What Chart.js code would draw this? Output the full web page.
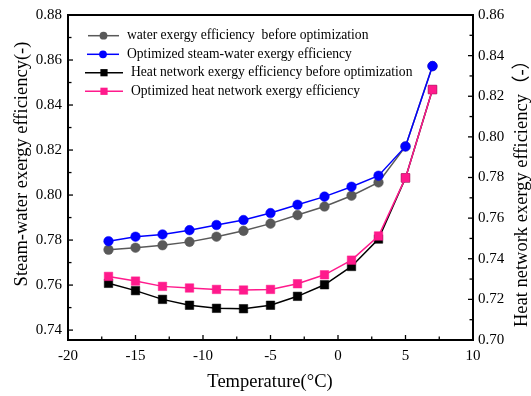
<!DOCTYPE html>
<html>
<head>
<meta charset="utf-8">
<script src="https://cdn.jsdelivr.net/npm/chart.js@4/dist/chart.umd.min.js"></script>
<style>
  html, body { margin: 0; padding: 0; background: #fff; }
  #wrap { width: 531px; height: 396px; position: relative; }
</style>
</head>
<body>
<div id="wrap"><canvas id="c" width="531" height="396"></canvas></div>
<script>
// Outdoor temperature (°C)
const temperatures = [-17, -15, -13, -11, -9, -7, -5, -3, -1, 1, 3, 5, 7];

// Steam-water exergy efficiency (left axis)
const steamWaterBefore = [0.7757, 0.7766, 0.7777, 0.7792, 0.7815, 0.7841, 0.7873, 0.7911, 0.7949, 0.7997, 0.8056, 0.8216, 0.8573];
const steamWaterOptimized = [0.7795, 0.7815, 0.7825, 0.7844, 0.7867, 0.7889, 0.7920, 0.7957, 0.7993, 0.8037, 0.8086, 0.8216, 0.8573];

// Heat network exergy efficiency (right axis)
const heatNetBefore = [0.7279, 0.7243, 0.7200, 0.7171, 0.7156, 0.7154, 0.7171, 0.7215, 0.7272, 0.7362, 0.7497, 0.7798, 0.8233];
const heatNetOptimized = [0.7313, 0.7290, 0.7264, 0.7256, 0.7249, 0.7246, 0.7249, 0.7277, 0.7321, 0.7393, 0.7512, 0.7798, 0.8233];

// Tick labels
const xTicks = [-20, -15, -10, -5, 0, 5, 10];
const leftTicks = [0.74, 0.76, 0.78, 0.80, 0.82, 0.84, 0.86, 0.88];
const rightTicks = [0.70, 0.72, 0.74, 0.76, 0.78, 0.80, 0.82, 0.84, 0.86];

const serif = "'Liberation Serif', 'Times New Roman', serif";

function pts(ys) { return temperatures.map((t, i) => ({ x: t, y: ys[i] })); }

const datasets = [
  { label: 'water exergy efficiency  before optimization', data: pts(steamWaterBefore), yAxisID: 'yL',
    borderColor: '#595959', backgroundColor: '#595959', pointStyle: 'circle', pointRadius: 4.8, order: 2 },
  { label: 'Optimized steam-water exergy efficiency', data: pts(steamWaterOptimized), yAxisID: 'yL',
    borderColor: '#0000ff', backgroundColor: '#0000ff', pointStyle: 'circle', pointRadius: 4.8, order: 0 },
  { label: 'Heat network exergy efficiency before optimization', data: pts(heatNetBefore), yAxisID: 'yR',
    borderColor: '#000000', backgroundColor: '#000000', pointStyle: 'rect', pointRadius: 6, order: 3 },
  { label: 'Optimized heat network exergy efficiency', data: pts(heatNetOptimized), yAxisID: 'yR',
    borderColor: '#ff1a8c', backgroundColor: '#ff1a8c', pointStyle: 'rect', pointRadius: 6, order: 1 }
];
datasets.forEach(d => { d.borderWidth = 1.5; d.pointBorderWidth = 0.5; d.tension = 0; d.fill = false; });

function fixedTicks(list) {
  return function (scale) { scale.ticks = list.map(v => ({ value: v })); };
}

// Frame, inward tick marks, legend and axis titles
const decor = {
  id: 'decor',
  afterDraw(chart) {
    const ctx = chart.ctx;
    const a = chart.chartArea;
    const sx = chart.scales.x, sl = chart.scales.yL, sr = chart.scales.yR;
    ctx.save();
    ctx.strokeStyle = '#000';
    ctx.lineWidth = 1.3;
    // bottom ticks: major every 5, minor every 2.5
    for (let v = -20; v <= 10; v += 2.5) {
      const px = sx.getPixelForValue(v);
      const len = (v % 5 === 0) ? 5 : 3.5;
      ctx.beginPath(); ctx.moveTo(px, a.bottom); ctx.lineTo(px, a.bottom - len); ctx.stroke();
    }
    // left ticks
    for (let k = 74; k <= 88; k++) {
      const v = k / 100;
      const py = sl.getPixelForValue(v);
      const len = (k % 2 === 0) ? 5 : 3.5;
      ctx.beginPath(); ctx.moveTo(a.left, py); ctx.lineTo(a.left + len, py); ctx.stroke();
    }
    // right ticks
    for (let k = 70; k <= 86; k++) {
      const v = k / 100;
      const py = sr.getPixelForValue(v);
      const len = (k % 2 === 0) ? 5 : 3.5;
      ctx.beginPath(); ctx.moveTo(a.right, py); ctx.lineTo(a.right - len, py); ctx.stroke();
    }
    // frame
    ctx.lineWidth = 2;
    ctx.strokeRect(a.left, a.top, a.right - a.left, a.bottom - a.top);

    // legend
    const items = [
      { x0: 88, x1: 119, tx: 127, y: 35.7 },
      { x0: 87, x1: 119, tx: 127, y: 54.3 },
      { x0: 85, x1: 123, tx: 131, y: 72.7 },
      { x0: 85, x1: 123, tx: 131, y: 91.3 }
    ];
    ctx.font = '13.6px ' + serif;
    ctx.textBaseline = 'middle';
    ctx.textAlign = 'left';
    items.forEach((it, i) => {
      const ds = chart.data.datasets[i];
      ctx.strokeStyle = ds.borderColor;
      ctx.fillStyle = ds.backgroundColor;
      ctx.lineWidth = 1.5;
      ctx.beginPath(); ctx.moveTo(it.x0, it.y); ctx.lineTo(it.x1, it.y); ctx.stroke();
      const cx = (it.x0 + it.x1) / 2;
      if (ds.pointStyle === 'circle') {
        ctx.beginPath(); ctx.arc(cx, it.y, 3.9, 0, Math.PI * 2); ctx.fill();
      } else {
        ctx.fillRect(cx - 3.6, it.y - 3.6, 7.2, 7.2);
      }
      ctx.fillStyle = '#000';
      ctx.fillText(ds.label, it.tx, it.y);
    });

    // axis titles
    ctx.fillStyle = '#000';
    ctx.font = '18.5px ' + serif;
    ctx.textAlign = 'center';
    ctx.textBaseline = 'alphabetic';
    ctx.fillText('Temperature(°C)', 270, 386.5);

    ctx.save();
    ctx.translate(27, 164);
    ctx.rotate(-Math.PI / 2);
    ctx.fillText('Steam-water exergy efficiency(-)', 0, 0);
    ctx.restore();

    ctx.save();
    ctx.translate(527, 189);
    ctx.rotate(-Math.PI / 2);
    ctx.font = "18.5px 'Liberation Serif', 'Noto Sans CJK SC', serif";
    ctx.fillText('Heat network exergy efficiency（-）', 0, 0);
    ctx.restore();
    ctx.restore();
  }
};

const tickFont = { family: serif, size: 15 };

new Chart(document.getElementById('c'), {
  type: 'line',
  data: { datasets },
  options: {
    responsive: false,
    animation: false,
    devicePixelRatio: 1,
    layout: { padding: { top: 15, left: 0, right: 0, bottom: 0 } },
    plugins: { legend: { display: false }, tooltip: { enabled: false } },
    scales: {
      x: {
        type: 'linear', min: -20, max: 10,
        afterBuildTicks: fixedTicks(xTicks),
        afterFit(s) { s.height = 56; },
        grid: { display: false, drawTicks: false },
        border: { display: false },
        ticks: { font: tickFont, color: '#000', padding: 7, maxRotation: 0, callback: v => String(v) }
      },
      yL: {
        type: 'linear', position: 'left', min: 0.7356, max: 0.88,
        afterBuildTicks: fixedTicks(leftTicks),
        afterFit(s) { s.width = 68; },
        grid: { display: false, drawTicks: false },
        border: { display: false },
        ticks: { font: tickFont, color: '#000', padding: 6, callback: v => v.toFixed(2) }
      },
      yR: {
        type: 'linear', position: 'right', min: 0.70, max: 0.86,
        afterBuildTicks: fixedTicks(rightTicks),
        afterFit(s) { s.width = 58; },
        grid: { display: false, drawTicks: false },
        border: { display: false },
        ticks: { font: tickFont, color: '#000', padding: 5, callback: v => v.toFixed(2) }
      }
    }
  },
  plugins: [decor]
});
</script>
</body>
</html>
